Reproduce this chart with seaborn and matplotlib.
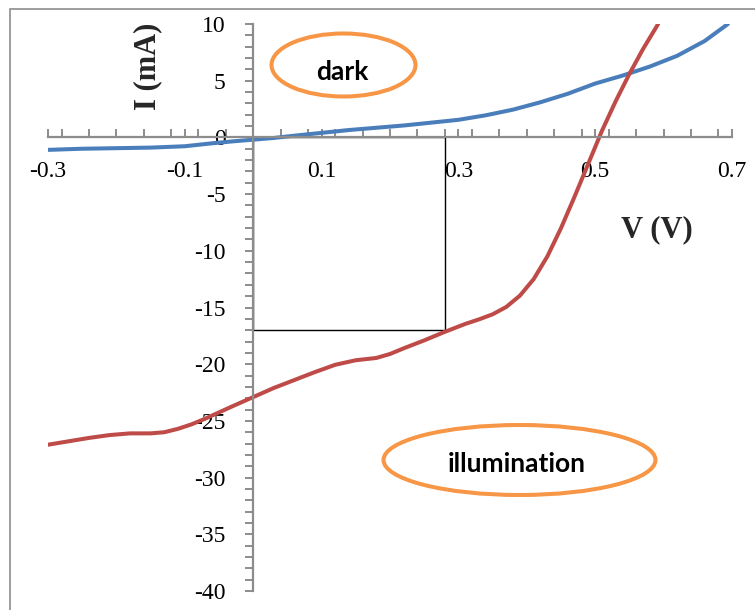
import matplotlib
matplotlib.use("Agg")
import matplotlib.pyplot as plt
from matplotlib.patches import Ellipse, Rectangle
from matplotlib.ticker import MultipleLocator, FixedLocator
import seaborn as sns
import pandas as pd

# ---- data ----
dark_v = [-0.30, -0.25, -0.20, -0.15, -0.10, -0.06, -0.03, 0.00, 0.03, 0.06, 0.10,
          0.14, 0.18, 0.22, 0.26, 0.30, 0.34, 0.38, 0.42, 0.46, 0.50, 0.54,
          0.58, 0.62, 0.66, 0.694]
dark_i = [-1.1, -1.0, -0.95, -0.9, -0.78, -0.52, -0.35, -0.2, -0.05, 0.15, 0.4,
          0.65, 0.85, 1.05, 1.3, 1.55, 1.95, 2.45, 3.1, 3.85, 4.75, 5.45,
          6.25, 7.2, 8.5, 10.0]

illum_v = [-0.30, -0.27, -0.24, -0.21, -0.18, -0.15, -0.13, -0.11, -0.09, -0.07,
           -0.05, -0.03, 0.00, 0.03, 0.06, 0.09, 0.12, 0.15, 0.18, 0.20, 0.22,
           0.25, 0.28, 0.31, 0.33, 0.35, 0.37, 0.39, 0.41, 0.43, 0.45, 0.47, 0.49,
           0.51, 0.53, 0.55, 0.57, 0.592]
illum_i = [-27.1, -26.8, -26.5, -26.25, -26.1, -26.1, -26.0, -25.7, -25.3, -24.8,
           -24.25, -23.7, -22.9, -22.1, -21.4, -20.7, -20.05, -19.65, -19.45, -19.1, -18.6,
           -17.9, -17.15, -16.45, -16.05, -15.6, -14.95, -13.95, -12.5, -10.5, -8.0, -5.2, -2.3,
           0.6, 3.2, 5.6, 7.8, 10.0]

x_ticks = [-0.3, -0.1, 0.1, 0.3, 0.5, 0.7]
x_ticklabels = ["-0.3", "-0.1", "0.1", "0.3", "0.5", "0.7"]
y_ticks = [10, 5, 0, -5, -10, -15, -20, -25, -30, -35, -40]
box_v = 0.28
box_i = -17

df = pd.concat([
    pd.DataFrame({"V": dark_v, "I": dark_i, "series": "dark"}),
    pd.DataFrame({"V": illum_v, "I": illum_i, "series": "illumination"}),
], ignore_index=True)

sns.set_theme(style="white")
plt.rcParams["font.family"] = ["Liberation Serif", "DejaVu Serif"]
plt.rcParams["axes.unicode_minus"] = False

W, H = 755, 610
fig = plt.figure(figsize=(W / 100, H / 100), dpi=100)
ax = fig.add_axes([48 / W, 19 / H, 684 / W, 567 / H])

sns.lineplot(data=df, x="V", y="I", hue="series",
             palette={"dark": "#4A7EBB", "illumination": "#BE4B48"},
             sort=False, estimator=None, linewidth=2.9, legend=False, ax=ax)
for ln in ax.lines:
    ln.set_solid_joinstyle("round")
    ln.set_solid_capstyle("round")

ax.set_xlim(-0.3, 0.7)
ax.set_ylim(-40, 10)

# box
ax.add_patch(Rectangle((0, box_i), box_v, -box_i, fill=False, edgecolor="black",
                       linewidth=1.0, zorder=1))

# spines through origin
for s in ["top", "right"]:
    ax.spines[s].set_visible(False)
ax.spines["left"].set_position(("data", 0))
ax.spines["bottom"].set_position(("data", 0))
for s in ["left", "bottom"]:
    ax.spines[s].set_color("#8c8c8c")
    ax.spines[s].set_linewidth(1.6)

ax.xaxis.set_major_locator(FixedLocator(x_ticks))
ax.set_xticklabels(x_ticklabels)
ax.xaxis.set_minor_locator(MultipleLocator(0.04))
ax.yaxis.set_major_locator(FixedLocator(y_ticks))
ax.yaxis.set_minor_locator(MultipleLocator(1))

ax.tick_params(axis="x", which="both", bottom=True, direction="in", length=6, width=1.4,
               color="#8c8c8c", labelsize=17, pad=17, labelcolor="black")
ax.tick_params(axis="y", which="both", left=True, direction="out", length=6, width=1.4,
               color="#8c8c8c", labelsize=17, pad=14, labelcolor="black")

ax.set_xlabel("V (V)", fontsize=22, fontweight="bold", va="center", ha="center")
ax.xaxis.set_label_coords((657 - 48) / 684, (591 - 230) / 567)
ax.set_ylabel("I (mA)", fontsize=22, fontweight="bold", va="center", ha="center")
ax.yaxis.set_label_coords((148 - 48) / 684, (591 - 66) / 567)

# outer frame
fig.patches.append(Rectangle((10 / W, -0.1), 2, 1 - 9 / H + 0.1, transform=fig.transFigure,
                             fill=False, edgecolor="#8c8c8c", linewidth=1.2))

# annotations
orange = "#F79646"
fig.patches.append(Ellipse((343.5 / W, 1 - 65 / H), 144 / W, 63 / H,
                           transform=fig.transFigure, fill=False,
                           edgecolor=orange, linewidth=2.9))
fig.patches.append(Ellipse((519.5 / W, 1 - 460 / H), 272 / W, 70 / H,
                           transform=fig.transFigure, fill=False,
                           edgecolor=orange, linewidth=2.9))
fig.text(342 / W, 1 - 72 / H, "dark", family=["Lato", "DejaVu Sans"], fontweight="bold",
         fontsize=19, ha="center", va="center", color="black")
fig.text(517 / W, 1 - 464 / H, "illumination", family=["Lato", "DejaVu Sans"],
         fontweight="bold", fontsize=19, ha="center", va="center", color="black")

fig.savefig("out.png", dpi=100, facecolor="white")
